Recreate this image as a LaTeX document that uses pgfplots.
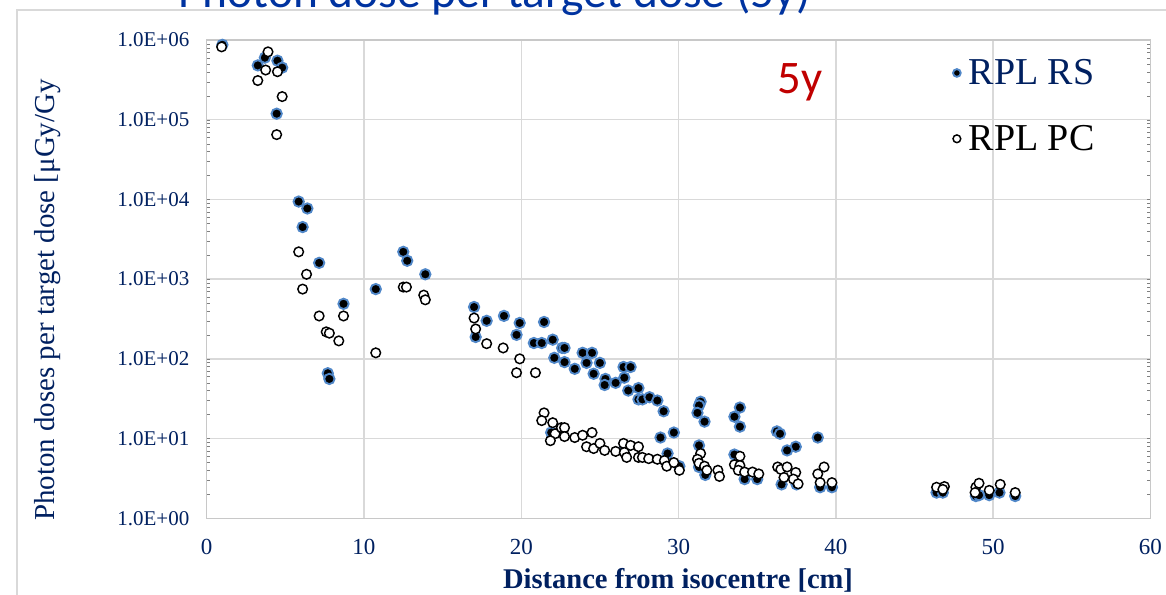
\documentclass[border=0pt]{standalone}
\usepackage{fontspec}
\setmainfont{Liberation Serif}
\newfontfamily\carlito{Carlito}
\usepackage{pgfplots}
\pgfplotsset{compat=1.18}
\definecolor{navy}{RGB}{0,32,96}
\definecolor{titleblue}{RGB}{0,51,160}
\definecolor{fiveyred}{RGB}{192,0,0}
\definecolor{gridgray}{RGB}{217,217,217}
\definecolor{axisgray}{RGB}{200,200,200}
\definecolor{halo}{RGB}{80,135,200}
\begin{document}
\begin{tikzpicture}[x=0.75pt,y=0.75pt]
\useasboundingbox (0,0) rectangle (1166,594);
\clip (0,0) rectangle (1166,594);
\draw[gridgray, line width=1.5pt] (17,-10) -- (17,584) -- (1180,584);
\node[anchor=base, text=titleblue, font=\carlito\fontsize{35.6}{40}\selectfont, inner sep=0pt] at (494.5,586) {Photon dose per target dose (5y)};
\begin{axis}[
  at={(155.0pt,56.8pt)}, anchor=south west,
  scale only axis, width=707.85pt, height=358.7pt,
  xmin=0, xmax=60, ymode=log, ymin=1, ymax=1000000,
  xtick={0,10,20,30,40,50,60},
  xticklabels={0,10,20,30,40,50,60},
  ytick={1,10,100,1000,10000,100000,1000000},
  yticklabels={1.0E+00,1.0E+01,1.0E+02,1.0E+03,1.0E+04,1.0E+05,1.0E+06},
  grid=major,
  major grid style={draw=gridgray, line width=1.1pt},
  axis line style={draw=axisgray, line width=1.1pt},
  major tick length=0pt, minor tick num=0,
  xticklabel style={font=\fontsize{17.25}{20}\selectfont, text=navy, yshift=-12pt},
  yticklabel style={font=\fontsize{15.75}{18}\selectfont, text=navy, xshift=-9.5pt},
  legend style={at={(0.7905,0.967)}, anchor=north west, draw=none, fill=none,
    inner sep=0pt, row sep=24pt, nodes={inner sep=2.5pt},
    /tikz/every odd column/.append style={column sep=3.5pt},
    font=\fontsize{28.5}{32}\selectfont},
  legend cell align=left,
  legend image code/.code={\draw[mark repeat=2,mark phase=2,#1,mark size=2.9pt] plot coordinates {(0pt,0pt) (4.5pt,0pt) (9pt,0pt)};},
]
\addplot[only marks, mark=*, mark size=3.9pt, mark options={fill=black, draw=halo, line width=1.4pt}] coordinates {
(1.0,870000) (3.25,480000) (3.7,600000) (4.5,550000) (4.8,450000) (4.45,119000)
(5.85,9400) (6.4,7700) (6.1,4500) (7.15,1600) (8.7,490) (7.7,66) (7.8,56)
(10.75,750) (12.5,2200) (12.75,1700) (13.9,1150)
(17.0,447) (17.8,300) (17.1,188) (18.9,346) (19.9,282) (19.7,200)
(21.45,290) (20.8,158) (21.3,158) (22.0,174) (22.1,103) (22.6,137) (22.75,137) (22.75,91)
(23.4,75) (23.9,119) (24.5,119) (24.15,89) (25.0,89) (24.6,65) (25.35,56) (25.3,47)
(26.0,50) (26.5,79) (26.95,79) (26.55,58) (26.8,40) (27.45,43) (27.45,31) (27.7,31)
(28.15,33) (28.65,30) (29.05,22) (28.85,10.3) (29.7,11.9) (21.9,11.9) (26.6,8.0)
(29.3,6.5) (30.05,4.5)
(31.4,29) (31.3,26) (31.2,21) (31.65,16.3) (31.3,8.2) (31.3,4.4) (31.7,3.5)
(33.9,24.5) (33.55,18.8) (33.9,14.1) (33.55,6.3) (34.2,3.1) (35.0,3.1)
(36.25,12.3) (36.45,11.5) (37.45,7.9) (36.9,7.1) (36.55,2.66) (37.5,2.66)
(38.85,10.3) (39.0,2.45) (39.75,2.45)
(46.4,2.1) (46.8,2.1) (48.9,1.9) (49.1,1.95) (49.75,1.95) (50.4,2.1) (51.4,1.9)
};
\addlegendentry{\textcolor{navy}{RPL RS}}
\addplot[only marks, mark=*, mark size=3.6pt, mark options={fill=white, draw=black, line width=1.1pt}] coordinates {
(0.95,820000) (3.9,710000) (3.75,420000) (4.5,400000) (3.25,310000) (4.8,195000) (4.45,65000)
(5.85,2200) (6.35,1150) (6.1,750) (7.15,345) (8.7,345) (7.6,218) (7.8,210) (8.4,168)
(10.75,119) (12.5,795) (12.7,795) (13.8,630) (13.9,550)
(17.0,325) (17.1,237) (17.8,155) (18.85,137) (19.9,100) (19.7,67) (20.9,67)
(21.45,21) (21.3,16.8) (22.0,15.8) (22.15,11.5) (21.85,9.4) (22.55,13.7) (22.75,13.7) (22.75,10.6)
(23.4,10.3) (23.9,11.0) (24.5,11.9) (24.15,7.9) (24.6,7.5) (25.0,8.7) (25.3,7.1)
(26.0,6.9) (26.5,8.7) (26.95,8.2) (27.45,7.9) (26.55,6.7) (26.7,5.8) (27.45,5.8) (27.7,5.8)
(28.1,5.6) (28.65,5.5) (29.1,5.3) (29.25,4.5) (29.7,5.0) (30.05,4.0)
(31.4,6.5) (31.2,5.5) (31.3,4.9) (31.65,4.5) (31.8,4.0) (32.5,4.0) (32.6,3.35)
(33.55,4.7) (33.9,6.0) (33.9,4.6) (33.8,4.0) (34.2,3.8) (34.7,3.8) (35.1,3.6)
(36.3,4.4) (36.5,4.1) (36.9,4.4) (36.7,3.25) (37.45,3.75) (37.3,3.1) (37.6,2.7)
(39.25,4.4) (38.85,3.6) (39.0,2.8) (39.75,2.8)
(46.4,2.45) (46.9,2.5) (46.8,2.3) (48.9,2.45) (49.1,2.75) (48.85,2.1) (49.75,2.24)
(50.45,2.66) (51.4,2.1)
};
\addlegendentry{RPL PC}
\node[text=fiveyred, font=\carlito\fontsize{35}{40}\selectfont] at (rel axis cs:0.6286,0.912) {5y};
\end{axis}
\node[rotate=90, text=navy, font=\fontsize{21.7}{24}\selectfont] at (48,294) {Photon doses per target dose [μGy/Gy};
\node[anchor=base, text=navy, font=\bfseries\fontsize{21.4}{24}\selectfont] at (678,6) {Distance from isocentre [cm]};
\end{tikzpicture}
\end{document}
